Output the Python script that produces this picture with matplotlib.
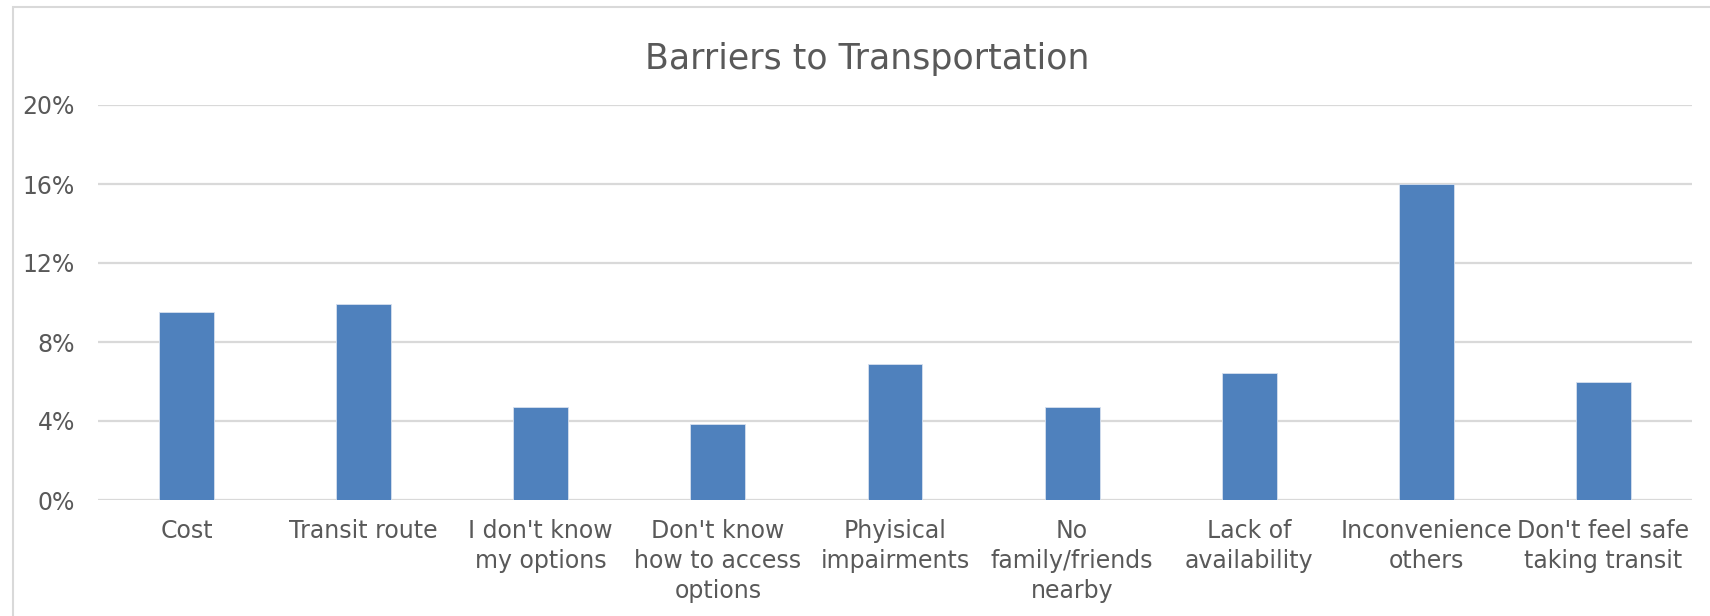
import matplotlib.pyplot as plt
from matplotlib.patches import Rectangle
from matplotlib.ticker import FuncFormatter

categories = ["Cost", "Transit route", "I don't know\nmy options",
              "Don't know\nhow to access\noptions", "Phyisical\nimpairments",
              "No\nfamily/friends\nnearby", "Lack of\navailability",
              "Inconvenience\nothers", "Don't feel safe\ntaking transit"]
shares = [9.5, 9.9, 4.7, 3.85, 6.9, 4.7, 6.45, 16.0, 6.0]
yticks = [0, 4, 8, 12, 16, 20]

text_color = "#595959"
grid_color = "#D9D9D9"
bar_color = "#4F81BD"

plt.rcParams['font.family'] = ['DejaVu Sans']

fig = plt.figure(figsize=(17.1, 6.16), dpi=100)
W, H = 1710, 616

# chart area frame (only left and top edges fall inside the image)
fig.patches.append(Rectangle((13 / W, -0.1), 1.2, (H - 7) / H + 0.1,
                             transform=fig.transFigure, fill=False,
                             edgecolor=grid_color, linewidth=1.5))

ax = fig.add_axes([98 / W, (H - 500) / H, (1692 - 98) / W, 395 / H])
x = range(len(categories))
ax.bar(x, shares, width=0.31, color=bar_color, edgecolor="#D6E0EE",
       linewidth=0.6, zorder=3)

ax.set_xlim(-0.5, len(categories) - 0.5)
ax.set_ylim(0, 20)
ax.set_yticks(yticks)
ax.yaxis.set_major_formatter(FuncFormatter(lambda v, p: f"{v:.0f}%"))
ax.set_xticks(list(x))
ax.set_xticklabels(categories, linespacing=1.3)

ax.grid(axis="y", color=grid_color, linewidth=1.6, zorder=0)
for s in ax.spines.values():
    s.set_visible(False)
ax.tick_params(axis="both", length=0, labelsize=17, labelcolor=text_color)
ax.tick_params(axis="x", pad=14)
ax.tick_params(axis="y", pad=16.5)

fig.text(867 / W, (H - 69) / H, "Barriers to Transportation", ha="center",
         va="baseline", fontsize=25, color=text_color)

fig.savefig("out.png", dpi=100, facecolor="white")
